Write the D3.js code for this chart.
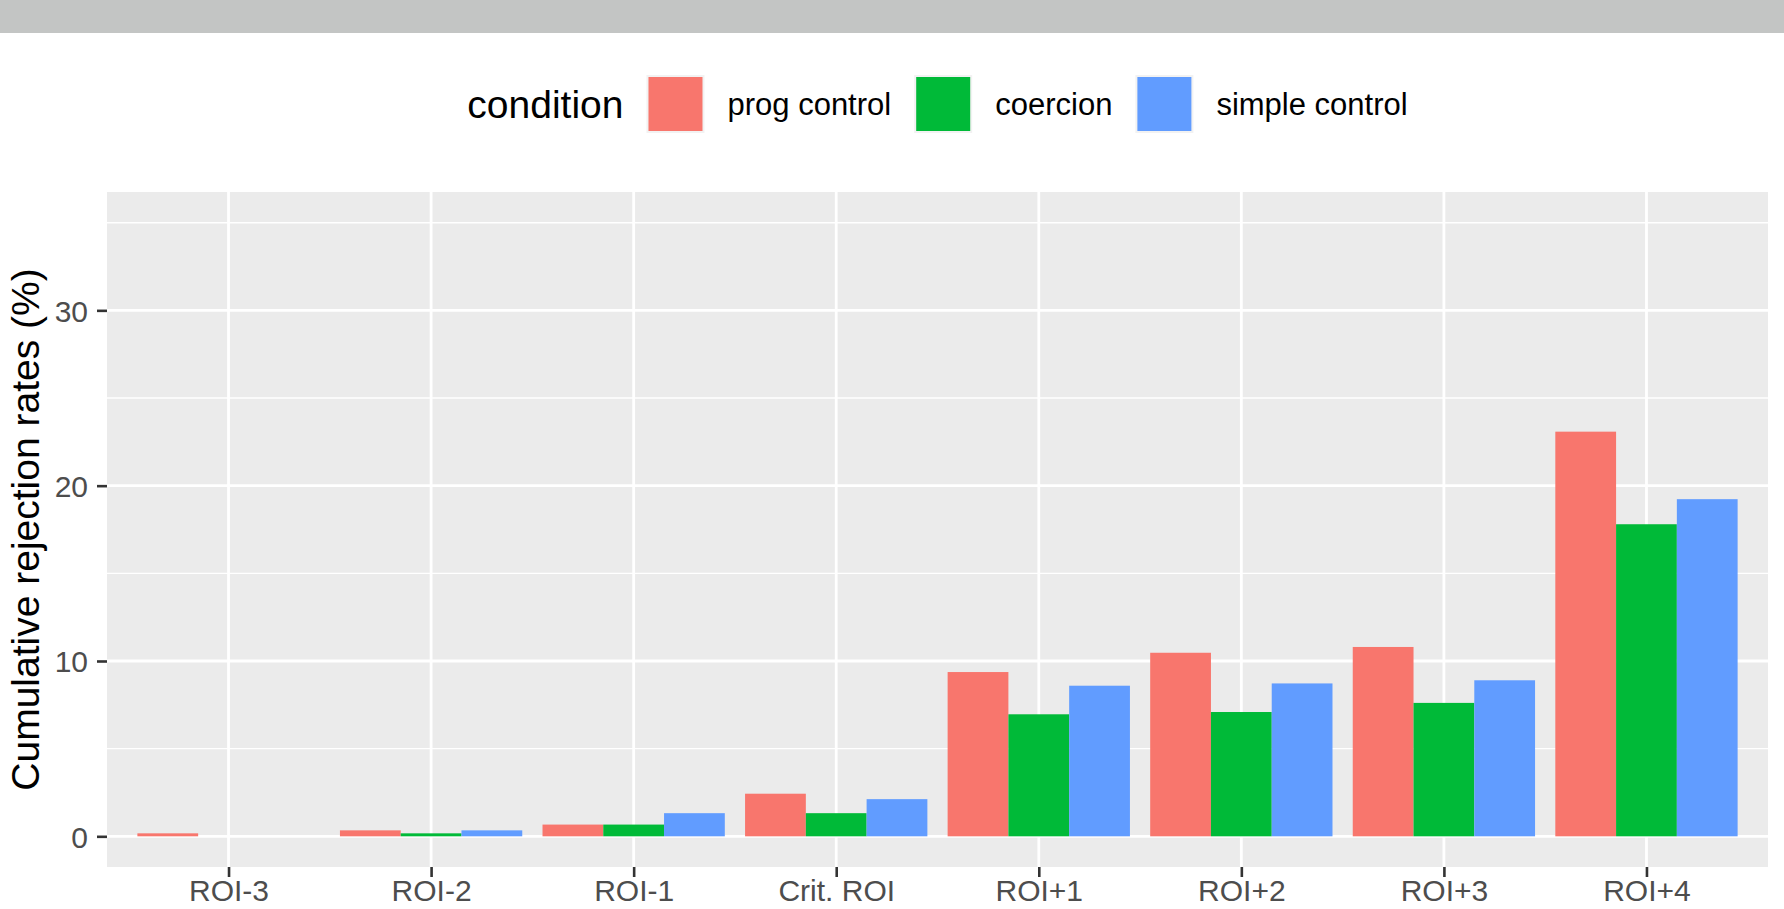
<!DOCTYPE html>
<html>
<head>
<meta charset="utf-8">
<script src="https://cdn.jsdelivr.net/npm/d3@7"></script>
<style>
  body { margin: 0; background: #ffffff; }
  svg { display: block; font-family: "Liberation Sans", Arial, sans-serif; }
</style>
</head>
<body>
<div id="chart"></div>
<script>
// données
const regions = ["ROI-3", "ROI-2", "ROI-1", "Crit. ROI", "ROI+1", "ROI+2", "ROI+3", "ROI+4"];
const conditions = ["prog control", "coercion", "simple control"];
const progControl = [0.17, 0.34, 0.67, 2.43, 9.37, 10.47, 10.8, 23.08];
const coercion = [0, 0.17, 0.67, 1.32, 6.96, 7.09, 7.61, 17.8];
const simpleControl = [0, 0.34, 1.32, 2.12, 8.59, 8.72, 8.9, 19.23];
const yTicks = [0, 10, 20, 30];
const yMinor = [5, 15, 25, 35];
const colors = ["#F8766D", "#00BA38", "#619CFF"];

const series = [progControl, coercion, simpleControl];
const data = [];
regions.forEach((r, i) => {
    conditions.forEach((c, k) => {
        data.push({ region: r, condition: c, k: k, value: series[k][i] });
    });
});

const fullWidth = 1784, fullHeight = 909;
const panel = { left: 107, right: 1768, top: 192, bottom: 867 };

const svg = d3.select("#chart").append("svg")
    .attr("width", fullWidth)
    .attr("height", fullHeight);

// bandeau gris en haut
svg.append("rect")
    .attr("x", 0).attr("y", 0)
    .attr("width", fullWidth).attr("height", 33)
    .attr("fill", "#c3c5c4");

const x = d3.scalePoint()
    .domain(regions)
    .range([panel.left, panel.right])
    .padding(0.6);
const step = x.step();

const y = d3.scaleLinear()
    .domain([-1.75, 36.75])
    .range([panel.bottom, panel.top]);

// fond du panneau
svg.append("rect")
    .attr("x", panel.left).attr("y", panel.top)
    .attr("width", panel.right - panel.left)
    .attr("height", panel.bottom - panel.top)
    .attr("fill", "#EBEBEB");

// grille
svg.append("g").selectAll("line.minor")
    .data(yMinor).enter().append("line")
    .attr("x1", panel.left).attr("x2", panel.right)
    .attr("y1", d => y(d)).attr("y2", d => y(d))
    .attr("stroke", "#ffffff").attr("stroke-width", 1.4);

svg.append("g").selectAll("line.major")
    .data(yTicks).enter().append("line")
    .attr("x1", panel.left).attr("x2", panel.right)
    .attr("y1", d => y(d)).attr("y2", d => y(d))
    .attr("stroke", "#ffffff").attr("stroke-width", 2.8);

svg.append("g").selectAll("line.vmajor")
    .data(regions).enter().append("line")
    .attr("x1", d => x(d)).attr("x2", d => x(d))
    .attr("y1", panel.top).attr("y2", panel.bottom)
    .attr("stroke", "#ffffff").attr("stroke-width", 2.8);

// barres
svg.append("g").selectAll("rect")
    .data(data).enter().append("rect")
    .attr("x", d => x(d.region) - 0.45 * step + d.k * 0.3 * step)
    .attr("width", 0.3 * step)
    .attr("y", d => y(Math.max(d.value, 0)))
    .attr("height", d => Math.abs(y(0) - y(d.value)))
    .attr("fill", d => colors[d.k]);

// axes
const xAxis = svg.append("g")
    .attr("transform", "translate(0," + panel.bottom + ")")
    .call(d3.axisBottom(x).tickSize(10).tickPadding(3));
const yAxis = svg.append("g")
    .attr("transform", "translate(" + panel.left + ",0)")
    .call(d3.axisLeft(y).tickValues(yTicks).tickSize(10).tickPadding(9));

[xAxis, yAxis].forEach(a => {
    a.select(".domain").remove();
    a.selectAll(".tick line").attr("stroke", "#333333").attr("stroke-width", 2.6);
    a.selectAll(".tick text")
        .attr("fill", "#4D4D4D")
        .style("font-size", "30px")
        .style("font-family", "Liberation Sans, Arial, sans-serif");
});
xAxis.selectAll(".tick text").attr("dy", "0.71em");
yAxis.selectAll(".tick text").attr("dy", "0.36em");

// titre de l'axe Y
svg.append("text")
    .attr("transform", "translate(25," + ((panel.top + panel.bottom) / 2) + ") rotate(-90)")
    .attr("text-anchor", "middle")
    .attr("dy", "0.36em")
    .style("font-size", "39px")
    .attr("fill", "#000000")
    .text("Cumulative rejection rates (%)");

// légende
const legend = svg.append("g");
const legendY = 104;
const keySize = 58;
const gap = 23;
let cx = 0;
const title = legend.append("text")
    .attr("x", cx).attr("y", legendY).attr("dy", "0.36em")
    .style("font-size", "39px")
    .text("condition");
cx += title.node().getComputedTextLength() + gap;
conditions.forEach((c, k) => {
    legend.append("rect")
        .attr("x", cx).attr("y", legendY - keySize / 2)
        .attr("width", keySize).attr("height", keySize)
        .attr("fill", "#F2F2F2");
    legend.append("rect")
        .attr("x", cx + 2).attr("y", legendY - keySize / 2 + 2)
        .attr("width", keySize - 4).attr("height", keySize - 4)
        .attr("fill", colors[k]);
    cx += keySize + gap;
    const t = legend.append("text")
        .attr("x", cx).attr("y", legendY).attr("dy", "0.36em")
        .style("font-size", "31px")
        .text(c);
    cx += t.node().getComputedTextLength() + gap;
});
const legendWidth = cx - gap;
legend.attr("transform", "translate(" + ((panel.left + panel.right) / 2 - legendWidth / 2) + ",0)");
</script>
</body>
</html>
